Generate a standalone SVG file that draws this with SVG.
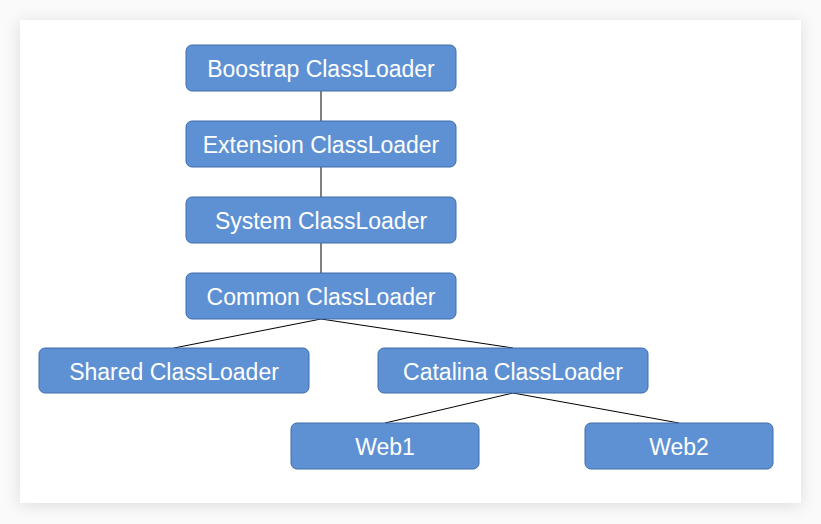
<svg xmlns="http://www.w3.org/2000/svg" width="821" height="524" viewBox="0 0 821 524">
<defs>
<filter id="sh" x="-10%" y="-10%" width="120%" height="120%">
<feDropShadow dx="0" dy="2" stdDeviation="8" flood-color="#000" flood-opacity="0.12"/>
</filter>
</defs>
<style>
.n rect{fill:#5E91D3;stroke:#3E6DA8;stroke-width:1}
.n text{fill:#fff;font-family:"Liberation Sans",Arial,sans-serif;font-size:23px;text-anchor:middle}
.c line{stroke:#000;stroke-width:1}
</style>
<rect x="0" y="0" width="821" height="524" fill="#fafafa"/>
<rect x="20" y="20" width="781" height="483" fill="#fff" filter="url(#sh)"/>
<g class="c" id="connectors">
<line x1="321" y1="91" x2="321" y2="121"/>
<line x1="321" y1="167" x2="321" y2="197"/>
<line x1="321" y1="243" x2="321" y2="273"/>
<line x1="321" y1="319" x2="174" y2="348"/>
<line x1="321" y1="319" x2="513" y2="348"/>
<line x1="513" y1="393" x2="385" y2="423"/>
<line x1="513" y1="393" x2="679" y2="423"/>
</g>
<g class="n" id="boostrap"><rect x="186" y="45" width="270" height="46" rx="6"/><text x="321" y="77">Boostrap ClassLoader</text></g>
<g class="n" id="extension"><rect x="186" y="121" width="270" height="46" rx="6"/><text x="321" y="153">Extension ClassLoader</text></g>
<g class="n" id="system"><rect x="186" y="197" width="270" height="46" rx="6"/><text x="321" y="229">System ClassLoader</text></g>
<g class="n" id="common"><rect x="186" y="273" width="270" height="46" rx="6"/><text x="321" y="305">Common ClassLoader</text></g>
<g class="n" id="shared"><rect x="39" y="348" width="270" height="45" rx="6"/><text x="174" y="380">Shared ClassLoader</text></g>
<g class="n" id="catalina"><rect x="378" y="348" width="270" height="45" rx="6"/><text x="513" y="380">Catalina ClassLoader</text></g>
<g class="n" id="web1"><rect x="291" y="423" width="188" height="46" rx="6"/><text x="385" y="455">Web1</text></g>
<g class="n" id="web2"><rect x="585" y="423" width="188" height="46" rx="6"/><text x="679" y="455">Web2</text></g>
</svg>
